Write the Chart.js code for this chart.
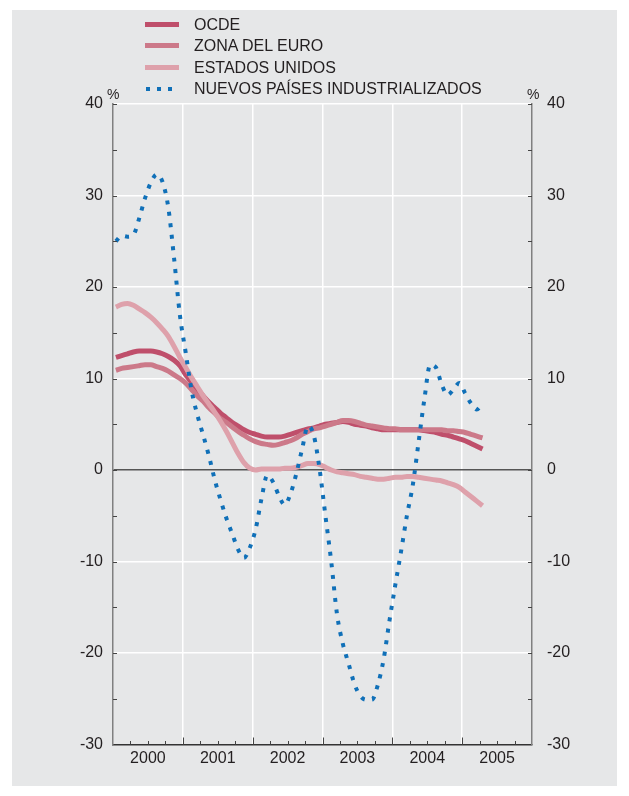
<!DOCTYPE html>
<html>
<head>
<meta charset="utf-8">
<script src="https://cdn.jsdelivr.net/npm/chart.js"></script>
<style>
  html, body { margin: 0; padding: 0; background: #fff; }
  #wrap { position: relative; width: 629px; height: 796px; font-family: "Liberation Sans", Arial, sans-serif; color: #231f20; }
  #panel { position: absolute; left: 12px; top: 10px; width: 605px; height: 776px; background: #e6e7e8; }
  #chart { position: absolute; left: 0; top: 0; }
  .row { position: absolute; left: 145px; height: 20px; line-height: 20px; font-size: 16px; white-space: nowrap; }
  .row .sw { position: absolute; left: 0; top: 7px; width: 34px; height: 5px; }
  .row .dot { position: absolute; top: 7.5px; width: 4px; height: 4px; background: #1070b8; }
  .row .tx { position: absolute; left: 49px; top: 0; }
  .pct { position: absolute; top: 85px; font-size: 14px; line-height: 18px; }
</style>
</head>
<body>
<div id="wrap">
  <div id="panel"></div>
  <canvas id="chart" width="629" height="796"></canvas>
  <div id="legend"></div>
  <div class="pct" style="left:107px">%</div>
  <div class="pct" style="left:527px">%</div>
</div>

<script>
// monthly, Jan 2000 .. Apr 2005
var ocde = [12.3, 12.5, 12.7, 12.9, 13.0, 13.0, 13.0, 12.9, 12.7, 12.4, 12.0, 11.4,
            10.4, 9.6, 8.8, 8.1, 7.4, 6.8, 6.2, 5.7, 5.2, 4.8, 4.4, 4.1,
            3.9, 3.7, 3.6, 3.6, 3.6, 3.7, 3.9, 4.1, 4.3, 4.5, 4.6, 4.8,
            5.0, 5.1, 5.2, 5.3, 5.2, 5.0, 4.9, 4.8, 4.6, 4.5, 4.4, 4.4,
            4.4, 4.4, 4.4, 4.4, 4.4, 4.3, 4.2, 4.1, 3.9, 3.8, 3.6, 3.4,
            3.2, 2.9, 2.6, 2.3];
var zonaEuro = [10.9, 11.1, 11.2, 11.3, 11.4, 11.5, 11.5, 11.3, 11.1, 10.8, 10.4, 10.0,
                9.5, 8.8, 8.1, 7.5, 6.8, 6.2, 5.6, 5.2, 4.7, 4.2, 3.8, 3.4,
                3.1, 2.9, 2.8, 2.7, 2.8, 3.0, 3.2, 3.5, 3.9, 4.2, 4.5, 4.6,
                4.8, 5.0, 5.2, 5.4, 5.4, 5.3, 5.1, 4.9, 4.8, 4.7, 4.6, 4.5,
                4.5, 4.4, 4.4, 4.4, 4.4, 4.4, 4.4, 4.4, 4.4, 4.3, 4.3, 4.2,
                4.1, 3.9, 3.7, 3.5];
var estadosUnidos = [17.8, 18.1, 18.2, 18.0, 17.6, 17.2, 16.7, 16.1, 15.4, 14.6, 13.5, 12.3,
                     11.2, 10.1, 9.1, 8.1, 7.2, 6.3, 5.3, 4.2, 3.0, 1.8, 0.8, 0.2,
                     0.0, 0.1, 0.1, 0.1, 0.1, 0.2, 0.2, 0.3, 0.5, 0.7, 0.7, 0.6,
                     0.3, 0.0, -0.2, -0.3, -0.4, -0.5, -0.7, -0.8, -0.9, -1.0, -1.0, -0.9,
                     -0.8, -0.8, -0.7, -0.7, -0.8, -0.9, -1.0, -1.1, -1.2, -1.4, -1.6, -1.9,
                     -2.4, -2.9, -3.4, -3.9];
var nuevosPaises = [25.0, 25.6, 25.5, 25.7, 27.5, 29.7, 31.4, 32.3, 31.5, 28.7, 23.1, 16.9,
                    12.8, 8.7, 6.0, 3.8, 1.5, -1.1, -3.3, -5.3, -7.0, -8.7, -9.6, -8.5,
                    -6.5, -3.2, -0.6, -1.3, -2.8, -3.8, -2.6, -0.4, 2.3, 4.8, 3.8, 0.1,
                    -5.0, -10.0, -15.8, -19.0, -21.2, -23.4, -24.7, -25.1, -25.1, -23.5, -20.7, -16.5,
                    -12.6, -8.9, -5.0, -1.7, 3.0, 7.7, 11.5, 11.2, 9.3, 8.2, 8.8, 9.5,
                    8.4, 7.3, 6.6, 7.3];

var years = ['2000', '2001', '2002', '2003', '2004', '2005'];
var seriesNames = ['OCDE', 'ZONA DEL EURO', 'ESTADOS UNIDOS', 'NUEVOS PAÍSES INDUSTRIALIZADOS'];
var seriesColors = ['#bf4f6b', '#cc7989', '#dea1ab', '#1070b8'];
var yTicks = [-30, -20, -10, 0, 10, 20, 30, 40];

function pts(arr) {
  return arr.map(function (v, i) { return { x: i + 0.5, y: v }; });
}

// legend
var legend = document.getElementById('legend');
var rowTops = [15, 36.3, 57.6, 79];
seriesNames.forEach(function (name, i) {
  var row = document.createElement('div');
  row.className = 'row';
  row.style.top = rowTops[i] + 'px';
  var sw = '';
  if (i < 3) {
    sw = '<span class="sw" style="background:' + seriesColors[i] + '"></span>';
  } else {
    sw = '<span class="dot" style="left:1px"></span><span class="dot" style="left:12px"></span><span class="dot" style="left:22.5px"></span>';
  }
  row.innerHTML = sw + '<span class="tx">' + name + '</span>';
  legend.appendChild(row);
});

// inward tick marks on the three axes
var innerTicks = {
  id: 'innerTicks',
  afterDatasetsDraw: function (chart) {
    var ctx = chart.ctx, a = chart.chartArea;
    var sx = chart.scales.x, sy = chart.scales.y;
    ctx.save();
    ctx.strokeStyle = '#444';
    ctx.lineWidth = 1;
    ctx.beginPath();
    for (var m = 3; m < 72; m += 3) {
      var px = Math.round(sx.getPixelForValue(m)) + 0.5;
      var len = m % 12 === 0 ? 7 : 3.5;
      ctx.moveTo(px, a.bottom);
      ctx.lineTo(px, a.bottom - len);
    }
    for (var v = -25; v <= 40; v += 5) {
      var py = Math.round(sy.getPixelForValue(v)) + 0.5;
      ctx.moveTo(a.left, py);
      ctx.lineTo(a.left + 4, py);
      ctx.moveTo(a.right, py);
      ctx.lineTo(a.right - 4, py);
    }
    ctx.stroke();
    ctx.restore();
  }
};

Chart.defaults.font.family = '"Liberation Sans", Arial, sans-serif';
Chart.defaults.font.size = 16;
Chart.defaults.color = '#231f20';

function yLabel(v) { return yTicks.indexOf(v) >= 0 ? v : ''; }

var lineSets = [ocde, zonaEuro, estadosUnidos];
var datasets = [];
datasets.push({
  label: seriesNames[3],
  data: pts(nuevosPaises),
  borderColor: seriesColors[3],
  borderWidth: 4,
  borderDash: [4, 7.5],
  borderCapStyle: 'butt',
  cubicInterpolationMode: 'monotone',
  pointRadius: 0,
  order: 0
});
for (var i = 2; i >= 0; i--) {
  datasets.push({
    label: seriesNames[i],
    data: pts(lineSets[i]),
    borderColor: seriesColors[i],
    borderWidth: 5,
    cubicInterpolationMode: 'monotone',
    pointRadius: 0,
    order: 3 - i
  });
}

new Chart(document.getElementById('chart'), {
  type: 'line',
  data: { datasets: datasets },
  options: {
    responsive: false,
    animation: false,
    layout: { padding: { top: 104, left: 0, right: 0, bottom: 0 } },
    plugins: { legend: { display: false }, tooltip: { enabled: false } },
    scales: {
      x: {
        type: 'linear',
        min: 0,
        max: 72,
        afterBuildTicks: function (s) {
          var t = [];
          for (var v = 0; v <= 72; v += 6) t.push({ value: v });
          s.ticks = t;
        },
        afterFit: function (s) { s.height = 51.5; },
        ticks: {
          autoSkip: false,
          maxRotation: 0,
          minRotation: 0,
          padding: 4,
          callback: function (v) { return v % 12 === 6 ? years[(v - 6) / 12] : ''; }
        },
        grid: {
          drawTicks: false,
          lineWidth: 1.5,
          color: function (c) {
            var v = c.tick.value;
            return (v % 12 === 0 && v > 0 && v < 72) ? '#ffffff' : 'rgba(0,0,0,0)';
          }
        },
        border: { color: '#333333', width: 1.5 }
      },
      y: {
        position: 'left',
        min: -30,
        max: 40,
        afterFit: function (s) { s.width = 113; },
        ticks: { stepSize: 5, padding: 10, callback: yLabel },
        grid: {
          drawTicks: false,
          lineWidth: 1.5,
          color: function (c) {
            var v = c.tick.value;
            if (v === 0) return '#555555';
            if (v % 10 === 0 && v > -30) return '#ffffff';
            return 'rgba(0,0,0,0)';
          }
        },
        border: { color: '#808080', width: 1.5 }
      },
      y2: {
        position: 'right',
        min: -30,
        max: 40,
        afterFit: function (s) { s.width = 97; },
        ticks: { stepSize: 5, padding: 15, callback: yLabel },
        grid: { display: false, drawTicks: false },
        border: { color: '#808080', width: 1.5 }
      }
    }
  },
  plugins: [innerTicks]
});
</script>
</body>
</html>
